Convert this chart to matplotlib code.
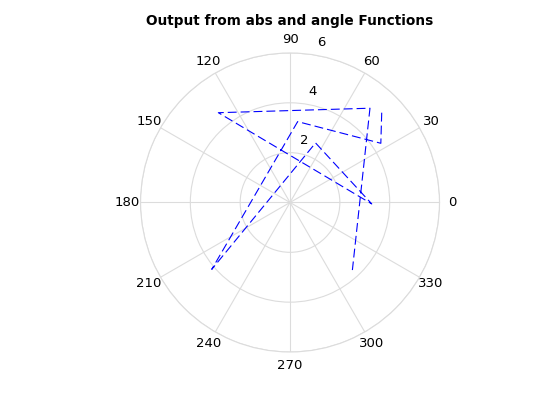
import numpy as np
from matplotlib import pyplot as plt

# path vertices (angle in degrees, magnitude)
theta_deg = [44.4, 33.1, 84.6, 220.5, 66.8, 359.0, 128.6, 49.7, 312.7]
rho = [5.15, 4.35, 3.26, 4.13, 2.60, 3.28, 4.61, 4.96, 3.69]

theta_ticks = list(range(0, 360, 30))
r_ticks = [2, 4, 6]
title = 'Output from abs and angle Functions'

grid_color = '#dcdcdc'

fig = plt.figure(figsize=(5.6, 4.2), dpi=100)
ax = fig.add_axes([0.2509, 0.1619, 0.534, 0.712], projection='polar')

ax.plot(np.deg2rad(theta_deg), rho, color='blue', linestyle='--',
        dashes=(8, 3.6), linewidth=0.8)

ax.set_rlim(0, 6)
ax.set_rticks(r_ticks)
ax.set_yticklabels([])
ax.set_thetagrids(theta_ticks, [str(t) for t in theta_ticks], fontsize=9.5)
ax.tick_params(axis='x', pad=-1, colors='black')
ax.grid(True, color=grid_color, linewidth=0.8)
ax.spines['polar'].set_color(grid_color)
ax.spines['polar'].set_linewidth(0.8)

# r tick labels sit next to the 80 degree spoke, as in MATLAB
for r in r_ticks:
    ax.annotate(str(r), xy=(np.deg2rad(80), r), xytext=(4, 9),
                textcoords='offset points', ha='center', va='center',
                fontsize=9.5)

ax.set_title(title, fontsize=9.8, fontweight='bold', pad=20)

fig.savefig('out.png', dpi=100)
